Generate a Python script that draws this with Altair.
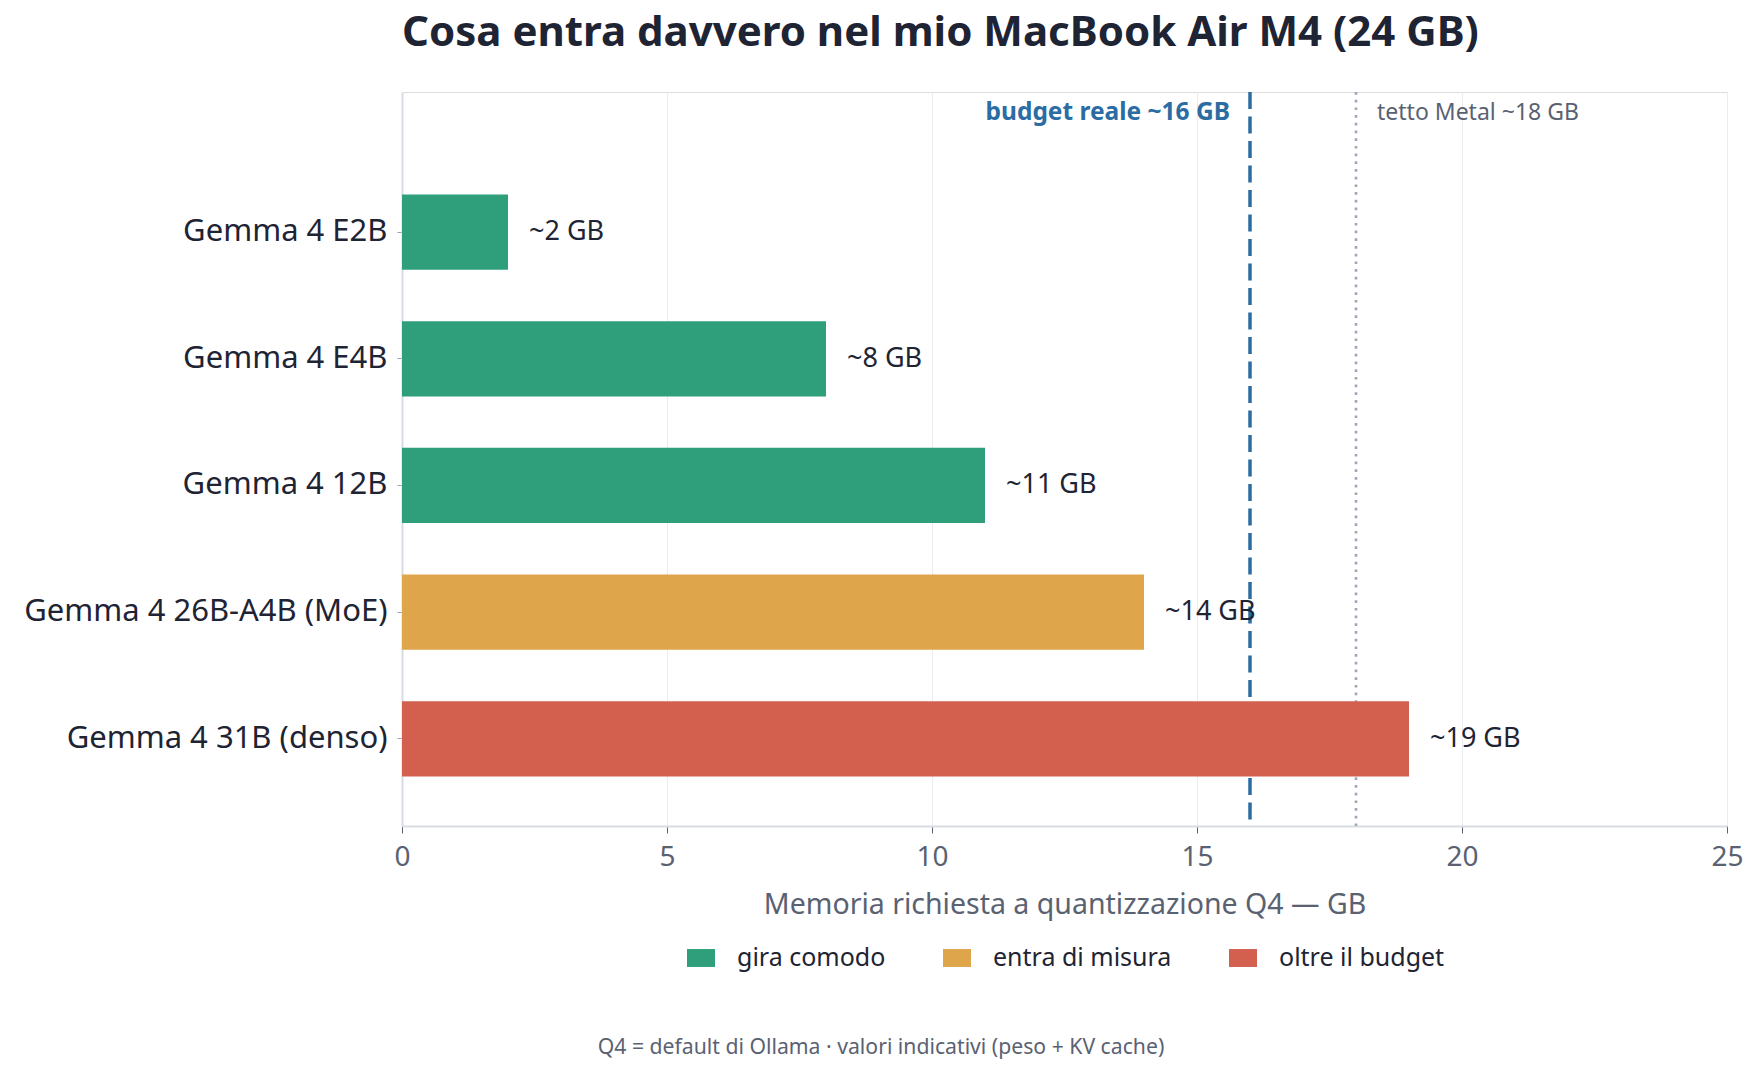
import altair as alt
import pandas as pd

models = ["Gemma 4 E2B", "Gemma 4 E4B", "Gemma 4 12B", "Gemma 4 26B-A4B (MoE)", "Gemma 4 31B (denso)"]
memory_gb = [2, 8, 11, 14, 19]
value_labels = ["~2 GB", "~8 GB", "~11 GB", "~14 GB", "~19 GB"]
status = ["gira comodo", "gira comodo", "gira comodo", "entra di misura", "oltre il budget"]

status_order = ["gira comodo", "entra di misura", "oltre il budget"]
status_colors = ["#2e9e7b", "#dfa54b", "#d3604f"]

ref_values = [16, 18]
ref_labels = ["budget reale ~16 GB", "tetto Metal ~18 GB"]

title_text = "Cosa entra davvero nel mio MacBook Air M4 (24 GB)"
x_title = "Memoria richiesta a quantizzazione Q4 — GB"
footnote = "Q4 = default di Ollama · valori indicativi (peso + KV cache)"

FONT = "Noto Sans"
DARK = "#1e2433"
GRAY = "#5a6272"

W, H = 1325, 734

df = pd.DataFrame({"model": models, "mem": memory_gb, "label": value_labels, "status": status})
refs = pd.DataFrame({"v": ref_values, "t": ref_labels})

y_scale = alt.Scale(domain=models, paddingInner=0.406, paddingOuter=0.6, align=0.674)
y_enc = alt.Y("model:N", sort=models, title=None, scale=y_scale,
              axis=alt.Axis(labelFontSize=31, labelColor=DARK, labelFont=FONT, labelPadding=10,
                            labelLimit=0,
                            tickSize=5, tickColor="#9aa1ad", domainColor="#d8dce4", domainWidth=2,
                            grid=False))
x_scale = alt.Scale(domain=[0, 25], nice=False)
x_axis = alt.Axis(values=[0, 5, 10, 15, 20, 25], labelFontSize=28, labelColor=GRAY, labelFont=FONT,
                  labelPadding=10, labelFlush=False, tickSize=7, tickColor=GRAY,
                  domainColor="#d8dce4", domainWidth=2,
                  grid=True, gridColor="#e9ecf1", gridWidth=1,
                  titleFontSize=28.5, titleColor=GRAY, titleFont=FONT, titleFontWeight="normal",
                  titlePadding=19)

budget_rule = alt.Chart(refs.iloc[[0]]).mark_rule(color="#2b6ca3", strokeWidth=3.5, strokeDash=[17, 7.5]).encode(
    x=alt.X("v:Q", scale=x_scale))
metal_rule = alt.Chart(refs.iloc[[1]]).mark_rule(color="#a0a5b5", strokeWidth=2.6, strokeDash=[2.7, 5]).encode(
    x=alt.X("v:Q", scale=x_scale))

bars = alt.Chart(df).mark_bar().encode(
    x=alt.X("mem:Q", scale=x_scale, axis=x_axis, title=x_title),
    y=y_enc,
    color=alt.Color("status:N", scale=alt.Scale(domain=status_order, range=status_colors),
                    legend=alt.Legend(title=None, orient="none", legendX=285, legendY=852,
                                      direction="horizontal",
                                      symbolType="M-1,-0.64H1V0.64H-1Z", symbolSize=784,
                                      symbolStrokeWidth=0, symbolOpacity=1,
                                      labelFontSize=25, labelColor=DARK, labelFont=FONT,
                                      labelLimit=0, labelOffset=22, columnPadding=57)),
)

bar_text = alt.Chart(df).mark_text(align="left", baseline="middle", dx=21, fontSize=27,
                                   color=DARK, font=FONT).encode(
    x=alt.X("mem:Q", scale=x_scale), y=alt.Y("model:N", sort=models, scale=y_scale), text="label:N")

budget_text = alt.Chart(refs.iloc[[0]]).mark_text(align="right", baseline="middle", dx=-20, fontSize=24.5,
                                                  fontWeight="bold", color="#2b6ca3", font=FONT).encode(
    x=alt.X("v:Q", scale=x_scale), y=alt.value(21), text="t:N")
metal_text = alt.Chart(refs.iloc[[1]]).mark_text(align="left", baseline="middle", dx=21, fontSize=23,
                                                 color=GRAY, font=FONT).encode(
    x=alt.X("v:Q", scale=x_scale), y=alt.value(21), text="t:N")

foot = alt.Chart(pd.DataFrame({"t": [footnote]})).mark_text(
    align="center", baseline="middle", fontSize=21.2, color=GRAY, font=FONT).encode(
    x=alt.value(479), y=alt.value(956), text="t:N")

chart = alt.layer(budget_rule, metal_rule, bars, bar_text, budget_text, metal_text, foot).properties(
    width=W, height=H,
    title=alt.TitleParams(title_text, anchor="start", frame="group", fontSize=42, font=FONT,
                          fontWeight="bold", color=DARK, baseline="alphabetic", offset=2),
).configure_view(stroke=None).configure(
    autosize=alt.AutoSizeParams(type="none"),
    padding={"left": 402, "top": 92, "right": 35, "bottom": 248},
    background="white",
)

chart.save("out.html", embed_options={"renderer": "svg", "actions": False})
